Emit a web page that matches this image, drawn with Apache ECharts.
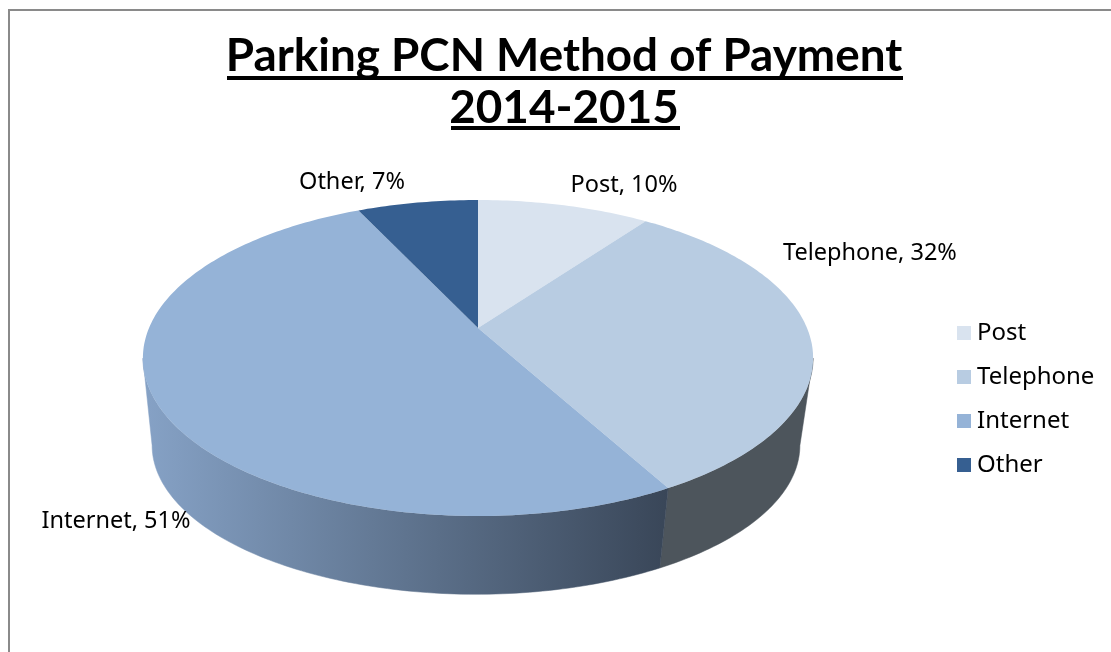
<!DOCTYPE html>
<html>
<head>
<meta charset="utf-8">
<title>Parking PCN Method of Payment</title>
<script src="https://cdn.jsdelivr.net/npm/echarts@6/dist/echarts.min.js"></script>
<style>
  html, body { margin: 0; padding: 0; background: #fff; }
  #main { width: 1111px; height: 652px; }
</style>
</head>
<body>
<div id="main"></div>
<script>
var categories = ['Post', 'Telephone', 'Internet', 'Other'];
var values = [10, 32, 51, 7];
var titleText = 'Parking PCN Method of Payment\n2014-2015';

var colors = ['#d9e3ef', '#b8cce2', '#95b3d7', '#365f91'];
var labelPos = [[624, 185], [870, 253], [116, 521], [352, 182]];
var fontName = '"Noto Sans", sans-serif';

// the pie is tilted, so a circle goes through a small perspective projection
var persp = 0.19;
var topDisc = { cx: 478, cy: 328, a: 329, b: 152.3 };
var baseDisc = { cx: 476, cy: 417, a: 318, b: 143.6 };

function project(disc, deg) {
  var t = deg * Math.PI / 180;
  var u = Math.sin(t), v = -Math.cos(t);
  var d = 1 - persp * v;
  return [disc.cx + disc.a * u / d, disc.cy + disc.b * v / d];
}

function arc(disc, from, to) {
  var pts = [];
  var n = Math.max(2, Math.ceil(Math.abs(to - from)));
  for (var i = 0; i <= n; i++) {
    pts.push(project(disc, from + (to - from) * i / n));
  }
  return pts;
}

var total = values.reduce(function (s, v) { return s + v; }, 0);
var wallFrom = 101, wallTo = 259; // part of the rim that faces the viewer

function wallFill(i) {
  if (i === 2) {
    return { type: 'linear', x: 0, y: 0, x2: 1, y2: 0, colorStops: [
      { offset: 0, color: '#86a2c6' },
      { offset: 0.5, color: '#5f748f' },
      { offset: 1, color: '#394658' }
    ] };
  }
  return '#4d555c';
}

function renderSlice(i) {
  return function () {
    var before = 0;
    for (var j = 0; j < i; j++) before += values[j];
    var start = before / total * 360;
    var end = (before + values[i]) / total * 360;
    var children = [];

    var from = Math.max(start, wallFrom), to = Math.min(end, wallTo);
    if (to > from) {
      children.push({
        type: 'polygon',
        z2: 1,
        shape: { points: arc(topDisc, from, to).concat(arc(baseDisc, to, from)) },
        style: { fill: wallFill(i), stroke: wallFill(i), lineWidth: 0.5 }
      });
    }
    children.push({
      type: 'polygon',
      z2: 2,
      shape: { points: [[topDisc.cx, topDisc.cy]].concat(arc(topDisc, start, end)) },
      style: { fill: colors[i] }
    });
    children.push({
      type: 'text',
      z2: 3,
      x: labelPos[i][0],
      y: labelPos[i][1],
      style: {
        text: categories[i] + ', ' + values[i] + '%',
        fill: '#000',
        font: '23.5px ' + fontName,
        align: 'center',
        verticalAlign: 'middle'
      }
    });
    return { type: 'group', children: children };
  };
}

var series = [];
for (var i = 0; i < categories.length; i++) {
  series.push({
    name: categories[i],
    type: 'custom',
    coordinateSystem: 'none',
    silent: true,
    animation: false,
    itemStyle: { color: colors[i] },
    renderItem: renderSlice(i),
    data: [values[i]]
  });
}

var myChart = echarts.init(document.getElementById('main'));
myChart.setOption({
  backgroundColor: '#fff',
  animation: false,
  title: {
    text: titleText,
    left: 559,
    top: 25,
    textAlign: 'center',
    textStyle: {
      fontFamily: 'Lato, sans-serif',
      fontWeight: 'bold',
      fontSize: 45.8,
      lineHeight: 52,
      color: '#000'
    }
  },
  legend: {
    orient: 'vertical',
    left: 952,
    top: 316,
    icon: 'rect',
    itemWidth: 14,
    itemHeight: 14,
    itemGap: 20,
    selectedMode: false,
    textStyle: { fontFamily: fontName, fontSize: 24, color: '#000', padding: [0, 0, 0, 1] },
    data: categories
  },
  graphic: [
    { type: 'polyline', silent: true, shape: { points: [[9, 652], [9, 10], [1111, 10]] }, style: { stroke: '#8a8a8a', lineWidth: 2, fill: null } },
    { type: 'rect', silent: true, shape: { x: 227, y: 76, width: 676, height: 4 }, style: { fill: '#000' } },
    { type: 'rect', silent: true, shape: { x: 451, y: 126, width: 229, height: 4 }, style: { fill: '#000' } }
  ],
  series: series
});
</script>
</body>
</html>
